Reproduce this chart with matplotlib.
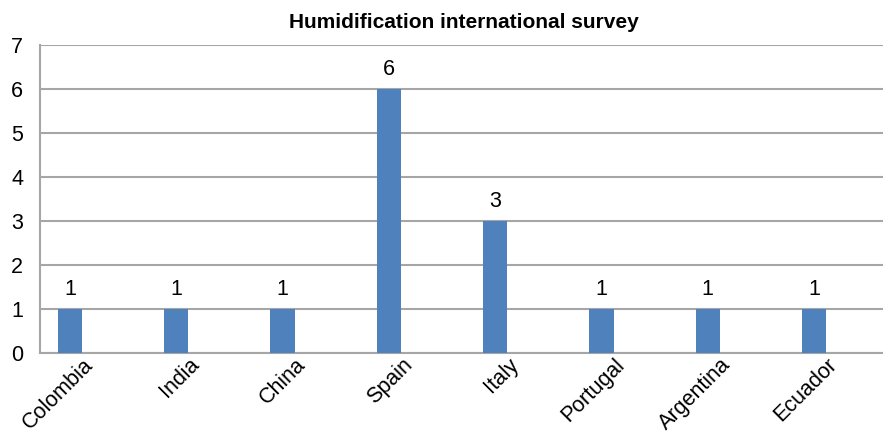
import numpy as np
import matplotlib
matplotlib.use('Agg')
import matplotlib.pyplot as plt

plt.rcParams['font.family'] = ['Liberation Sans', 'DejaVu Sans']

countries = ['Colombia', 'India', 'China', 'Spain', 'Italy', 'Portugal', 'Argentina', 'Ecuador']
counts = [1, 1, 1, 6, 3, 1, 1, 1]

fig = plt.figure(figsize=(8.83, 4.33), dpi=100)
ax = fig.add_axes([0.0453, 0.185, 0.9547, 0.711])

x = np.arange(len(countries))
bars = ax.bar(x, counts, width=0.23, color='#4F81BD', zorder=3)
for xi, v in zip(x, counts):
    ax.text(xi, v + 0.2, str(v), ha='center', va='bottom', fontsize=15.5)

ax.set_xlim(-0.282, 7.649)
ax.set_ylim(0, 7)
ax.set_yticks(range(8))
ax.yaxis.grid(True, color='#A6A6A6', linewidth=1.5, zorder=0)
ax.tick_params(axis='both', length=0, labelsize=15.5)
ax.tick_params(axis='y', pad=12)
ax.tick_params(axis='x', pad=1)
ax.set_xticks(x + 0.12)
ax.set_xticklabels(countries, rotation=45, ha='right', rotation_mode='anchor')
for s in ['top', 'right']:
    ax.spines[s].set_visible(False)
for s in ['left', 'bottom']:
    ax.spines[s].set_color('#A6A6A6')
    ax.spines[s].set_linewidth(1.5)

fig.text(0.525, 0.949, 'Humidification international survey', ha='center', va='center',
         fontsize=15, fontweight='bold')

plt.savefig('out.png', dpi=100)
